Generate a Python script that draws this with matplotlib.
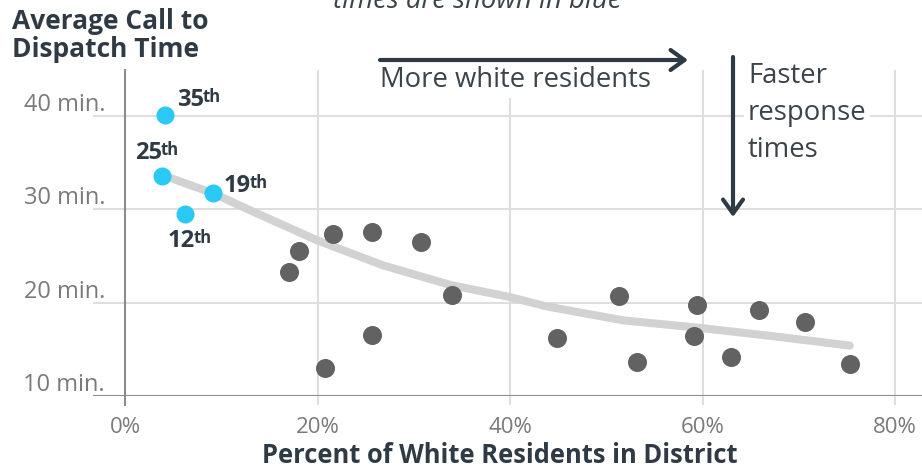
import matplotlib
matplotlib.use("Agg")
import matplotlib.pyplot as plt
from matplotlib import transforms as mtrans

# ---- data -------------------------------------------------------------
# districts with mostly non-white residents (highlighted)
blue_pct = [4.2, 3.8, 9.1, 6.2]
blue_min = [40.1, 33.6, 31.7, 29.5]
blue_num = ["35", "25", "19", "12"]
blue_suffix = ["th", "th", "th", "th"]

# remaining districts
gray_pct = [17.0, 18.1, 21.6, 25.7, 30.8, 34.0, 25.7, 20.8, 44.9, 51.3,
            53.2, 59.4, 59.1, 63.0, 65.9, 70.6, 75.3]
gray_min = [23.3, 25.5, 27.4, 27.6, 26.5, 20.8, 16.5, 13.0, 16.2, 20.7,
            13.6, 19.8, 16.4, 14.2, 19.2, 17.9, 13.4]

# trend line
trend_pct = [3.8, 9.2, 13.0, 19.9, 26.8, 33.8, 40.0, 43.8, 51.8, 59.7, 67.4, 75.3]
trend_min = [33.7, 31.7, 29.9, 26.7, 24.0, 21.9, 20.6, 19.6, 18.1, 17.3, 16.4, 15.4]

x_ticks = [0, 20, 40, 60, 80]
x_tick_labels = ["0%", "20%", "40%", "60%", "80%"]
y_ticks = [10, 20, 30, 40]
y_tick_labels = ["10 min.", "20 min.", "30 min.", "40 min."]

# ---- styling ------------------------------------------------------------
plt.rcParams["font.family"] = ["Open Sans", "DejaVu Sans"]
DARK = "#2f3a44"
TEXT = "#3b434b"
TICK = "#7a7a7a"
GRID = "#dedede"
AXIS = "#8c8c8c"
GRAY_DOT = "#626262"
BLUE_DOT = "#2bc9f5"
TREND = "#d2d2d2"

W, H = 922, 470
fig = plt.figure(figsize=(W / 100, H / 100), dpi=100)

# plot area in pixels
left_px, right_px, top_px, bottom_px = 93, 922, 70, 396
x0_px, x80_px = 125, 895          # where 0% and 80% sit
y10_px, y40_px = 396, 116          # where 10 and 40 min sit
ax = fig.add_axes([left_px / W, 1 - bottom_px / H,
                   (right_px - left_px) / W, (bottom_px - top_px) / H])
xs = (x80_px - x0_px) / 80.0
ys = (y10_px - y40_px) / 30.0
ax.set_xlim((left_px - x0_px) / xs, (right_px - x0_px) / xs)
ax.set_ylim(10, 10 + (bottom_px - top_px) / ys)

for s in ax.spines.values():
    s.set_visible(False)
ax.set_xticks(x_ticks)
ax.set_yticks(y_ticks)
ax.tick_params(labelbottom=False, labelleft=False)
ax.tick_params(axis="x", length=6.5, width=1.4, color=GRID)
ax.tick_params(axis="y", length=0)
ax.grid(color=GRID, lw=1.4)
ax.set_axisbelow(True)
ax.axhline(10, color=AXIS, lw=1.5, zorder=1.5)
ax.axvline(0, ymin=-9 / (bottom_px - top_px), ymax=1, color=AXIS, lw=1.5,
           clip_on=False, zorder=1.5)

# pixel-space transform for annotations outside the plot area
px = mtrans.Affine2D().scale(1 / W, -1 / H).translate(0, 1) + fig.transFigure

# y tick labels sit just above their gridlines
ytrans = mtrans.blended_transform_factory(px, ax.transData) + \
    mtrans.ScaledTranslation(0, 5 / 100, fig.dpi_scale_trans)
for v, lab in zip(y_ticks, y_tick_labels):
    ax.text(105, v, lab, transform=ytrans, ha="right", va="baseline",
            fontsize=17, color=TICK, clip_on=False)

xtrans = mtrans.blended_transform_factory(ax.transData, px)
for v, lab in zip(x_ticks, x_tick_labels):
    ax.text(v, 433, lab, transform=xtrans, ha="center", va="baseline",
            fontsize=16, color=TICK, clip_on=False)

# ---- marks ----------------------------------------------------------------
ax.plot(trend_pct, trend_min, color=TREND, lw=5.8, solid_capstyle="round",
        solid_joinstyle="round", zorder=2)
ax.plot(gray_pct, gray_min, "o", ms=13.7, color=GRAY_DOT, mec="none", zorder=3)
ax.plot(blue_pct, blue_min, "o", ms=13.0, color=BLUE_DOT, mec="none", zorder=4)

# district labels with a raised ordinal suffix (offsets in pixels)
label_offsets = [(11.6, 9.0), (-26.6, 16.7), (11.4, 1.5), (-16.7, -33.0)]
for x, y, num, suf, (dx, dy) in zip(blue_pct, blue_min, blue_num, blue_suffix,
                                    label_offsets):
    t = ax.annotate(num, xy=(x, y), xytext=(dx * 0.72, dy * 0.72),
                    textcoords="offset points", ha="left", va="baseline",
                    fontsize=17, fontweight="bold", color=DARK,
                    annotation_clip=False, zorder=6)
    ax.annotate(suf, xy=(1, 1), xycoords=t, xytext=(-1.0, 0.3),
                textcoords="offset points", ha="left", va="top",
                fontsize=12, fontweight="bold", color=DARK,
                annotation_clip=False, zorder=6)

# ---- annotations --------------------------------------------------------
arrow_style = "->,head_length=1.0,head_width=0.72"
ax.annotate("", xy=(688, 60), xycoords=px, xytext=(380, 60), textcoords=px,
            arrowprops=dict(arrowstyle=arrow_style, lw=3, color=DARK,
                            shrinkA=0, shrinkB=0, mutation_scale=10),
            annotation_clip=False, zorder=7)
ax.annotate("", xy=(733, 217), xycoords=px, xytext=(733, 57), textcoords=px,
            arrowprops=dict(arrowstyle=arrow_style, lw=3, color=DARK,
                            shrinkA=0, shrinkB=0, mutation_scale=10),
            annotation_clip=False, zorder=7)

box = dict(fc="white", ec="none", pad=2.5)
ax.text(380, 87, "More white residents", transform=px, ha="left",
        va="baseline", fontsize=19.8, color=TEXT, bbox=box, clip_on=False,
        zorder=5)
for line, base in zip(["Faster", "response", "times"], [83, 120, 157]):
    ax.text(748, base, line, transform=px, ha="left", va="baseline",
            fontsize=19.8, color=TEXT, bbox=box, clip_on=False, zorder=5)

ax.text(12, 29, "Average Call to", transform=px, ha="left", va="baseline",
        fontsize=19, fontweight="bold", color=DARK, clip_on=False)
ax.text(12, 57, "Dispatch Time", transform=px, ha="left", va="baseline",
        fontsize=19, fontweight="bold", color=DARK, clip_on=False)
ax.text(500, 463, "Percent of White Residents in District", transform=px,
        ha="center", va="baseline", fontsize=18.4, fontweight="bold",
        color=DARK, clip_on=False)
ax.text(477, 8, "times are shown in blue", transform=px, ha="center",
        va="baseline", fontsize=19.8, fontstyle="italic", color=TEXT,
        clip_on=False)

fig.savefig("out.png", dpi=100)
